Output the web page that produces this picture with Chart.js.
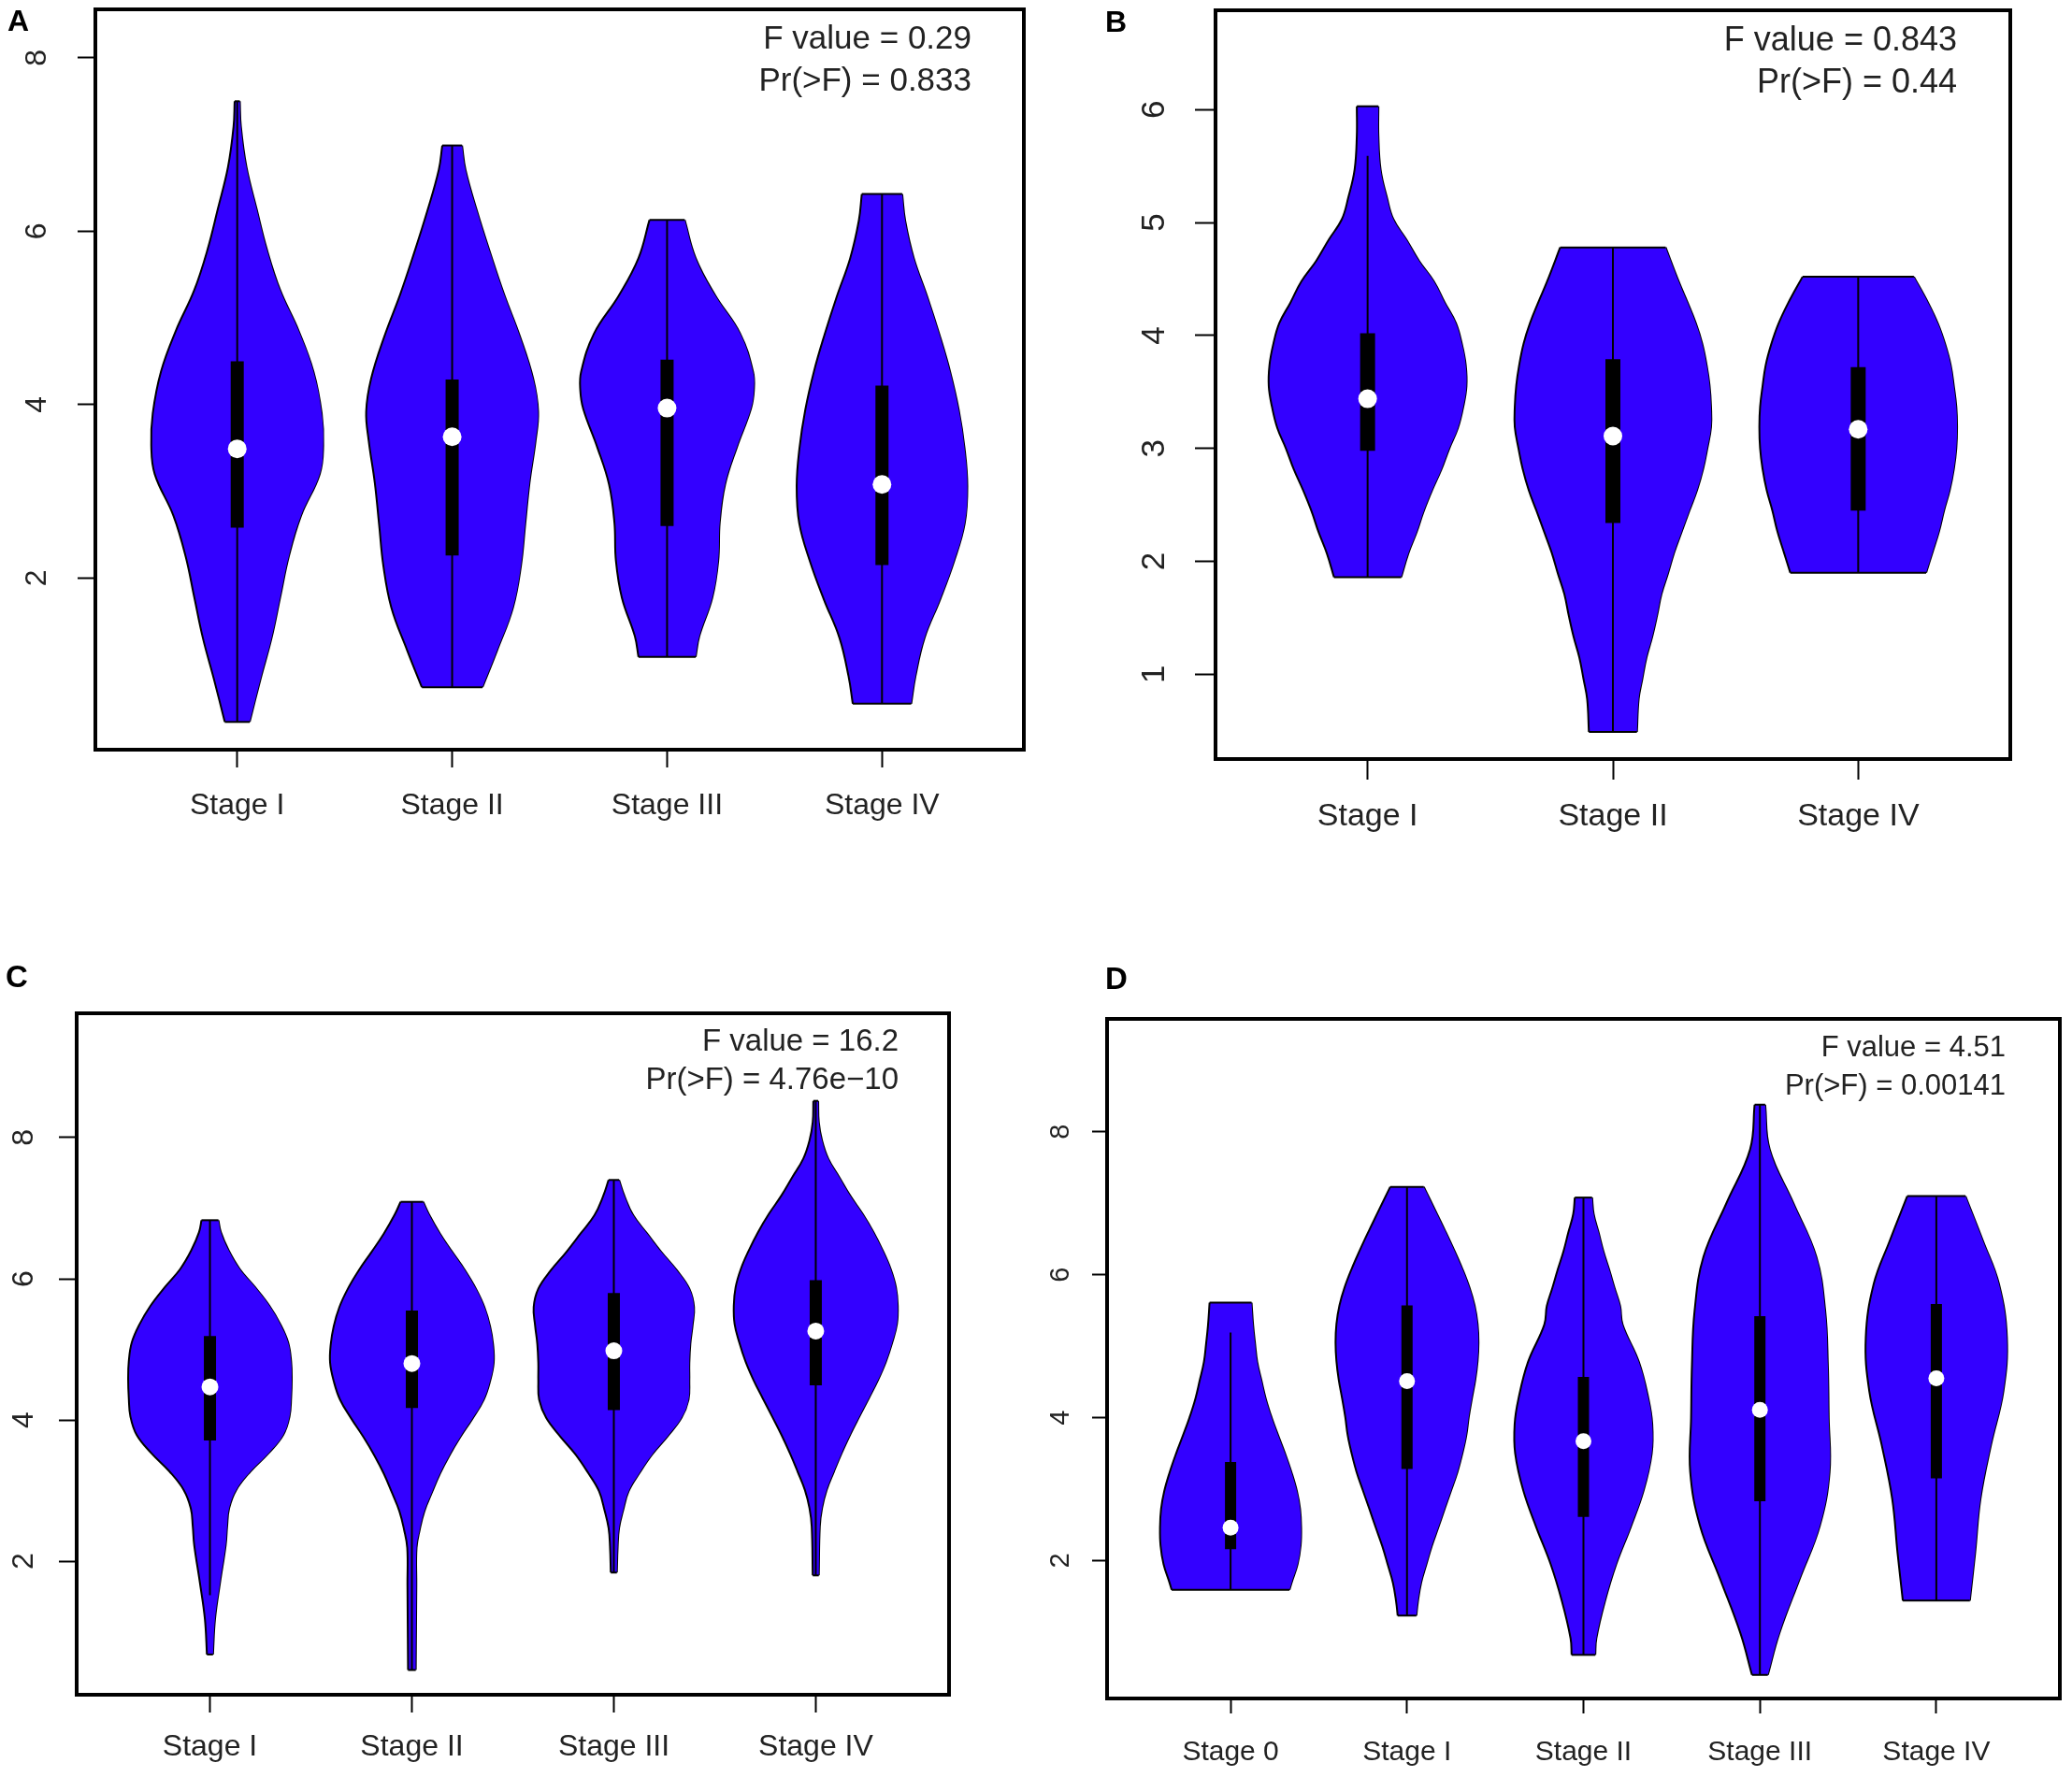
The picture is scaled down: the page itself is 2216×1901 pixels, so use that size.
<!DOCTYPE html>
<html><head><meta charset="utf-8">
<script src="https://cdn.jsdelivr.net/npm/chart.js@4.4.1/dist/chart.umd.min.js"></script>
<style>
html,body{margin:0;padding:0;background:#fff;}
#wrap{position:relative;width:2216px;height:1901px;overflow:hidden;background:#fff;}
canvas{position:absolute;}
.lab{position:absolute;font-family:"Liberation Sans",Arial,sans-serif;font-weight:bold;color:#000;line-height:1;}
</style></head><body>
<div id="wrap">
<canvas id="cA"></canvas><canvas id="cB"></canvas><canvas id="cC"></canvas><canvas id="cD"></canvas>
<div class="lab" style="left:8px;top:6px;font-size:32px">A</div>
<div class="lab" style="left:1182px;top:7px;font-size:32px">B</div>
<div class="lab" style="left:6px;top:1028px;font-size:33px">C</div>
<div class="lab" style="left:1182px;top:1030px;font-size:33px">D</div>
</div>
<script>
// ---------- DATA ----------
// Panel A
const A_categories = ['Stage I','Stage II','Stage III','Stage IV'];
const A_yTicks = [2,4,6,8];
const A_stats = ['F value = 0.29','Pr(>F) = 0.833'];
const A_shapes = [ // [value, half-width] from bottom to top
  [[0.34,0.058],[0.84,0.109],[1.31,0.16],[1.78,0.20],[2.25,0.24],[2.72,0.297],[3.20,0.384],[3.53,0.40],[3.90,0.393],[4.38,0.355],[4.85,0.286],[5.32,0.20],[5.79,0.138],[6.26,0.09],[6.74,0.043],[7.21,0.017],[7.50,0.012]],
  [[0.74,0.141],[1.17,0.21],[1.66,0.283],[2.14,0.32],[2.62,0.34],[3.10,0.36],[3.58,0.388],[3.92,0.40],[4.30,0.377],[4.79,0.315],[5.27,0.242],[5.75,0.177],[6.23,0.116],[6.71,0.062],[6.99,0.046]],
  [[1.09,0.133],[1.33,0.15],[1.77,0.21],[2.20,0.238],[2.64,0.245],[3.08,0.27],[3.51,0.325],[3.95,0.39],[4.17,0.404],[4.38,0.40],[4.82,0.34],[5.26,0.224],[5.69,0.133],[6.13,0.082]],
  [[0.55,0.136],[0.87,0.156],[1.31,0.198],[1.75,0.27],[2.19,0.335],[2.63,0.385],[3.06,0.397],[3.50,0.384],[3.94,0.357],[4.38,0.317],[4.81,0.267],[5.25,0.21],[5.69,0.148],[6.12,0.108],[6.43,0.094]]
];
const A_q1 = [2.58,2.26,2.60,2.15];
const A_q3 = [4.50,4.29,4.52,4.22];
const A_median = [3.49,3.63,3.96,3.08];
const A_whiskerLow = [0.34,0.74,1.09,0.55];
const A_whiskerHigh = [7.50,6.99,6.13,6.43];

// Panel B
const B_categories = ['Stage I','Stage II','Stage IV'];
const B_yTicks = [1,2,3,4,5,6];
const B_stats = ['F value = 0.843','Pr(>F) = 0.44'];
const B_shapes = [
  [[1.86,0.137],[2.07,0.166],[2.26,0.20],[2.44,0.228],[2.63,0.263],[2.81,0.30],[3.00,0.333],[3.18,0.368],[3.37,0.39],[3.55,0.403],[3.74,0.40],[3.92,0.385],[4.11,0.36],[4.29,0.315],[4.48,0.27],[4.66,0.21],[4.85,0.158],[5.03,0.105],[5.22,0.079],[5.47,0.053],[5.77,0.044],[6.03,0.044]],
  [[0.49,0.098],[0.78,0.105],[0.96,0.12],[1.15,0.137],[1.33,0.16],[1.52,0.18],[1.71,0.198],[1.89,0.224],[2.08,0.25],[2.26,0.28],[2.45,0.312],[2.63,0.343],[2.82,0.368],[3.00,0.385],[3.19,0.40],[3.37,0.40],[3.56,0.394],[3.74,0.382],[3.93,0.364],[4.11,0.338],[4.30,0.303],[4.48,0.268],[4.78,0.215]],
  [[1.90,0.277],[2.08,0.303],[2.27,0.33],[2.45,0.35],[2.63,0.373],[2.82,0.39],[3.00,0.40],[3.19,0.403],[3.37,0.40],[3.55,0.39],[3.74,0.377],[3.92,0.355],[4.10,0.326],[4.29,0.285],[4.52,0.227]]
];
const B_q1 = [2.98,2.34,2.45];
const B_q3 = [4.02,3.79,3.72];
const B_median = [3.44,3.11,3.17];
const B_whiskerLow = [1.86,0.49,1.90];
const B_whiskerHigh = [5.59,4.78,4.52];

// Panel C
const C_categories = ['Stage I','Stage II','Stage III','Stage IV'];
const C_yTicks = [2,4,6,8];
const C_stats = ['F value = 16.2','Pr(>F) = 4.76e\u221210'];
const C_shapes = [
  [[0.68,0.015],[1.18,0.025],[1.70,0.05],[2.23,0.078],[2.49,0.085],[2.75,0.095],[3.01,0.13],[3.27,0.20],[3.53,0.29],[3.79,0.363],[4.05,0.394],[4.31,0.402],[4.57,0.405],[4.83,0.402],[5.10,0.387],[5.36,0.348],[5.62,0.294],[5.88,0.224],[6.14,0.147],[6.40,0.093],[6.66,0.054],[6.83,0.042]],
  [[0.46,0.019],[1.67,0.022],[2.19,0.023],[2.45,0.039],[2.71,0.062],[2.98,0.10],[3.24,0.139],[3.50,0.186],[3.76,0.24],[4.02,0.30],[4.29,0.356],[4.55,0.387],[4.81,0.405],[5.07,0.402],[5.33,0.387],[5.60,0.359],[5.86,0.317],[6.12,0.263],[6.38,0.20],[6.64,0.139],[6.91,0.085],[7.09,0.056]],
  [[1.84,0.015],[2.21,0.019],[2.47,0.026],[2.72,0.046],[2.99,0.073],[3.25,0.127],[3.51,0.189],[3.77,0.266],[4.03,0.335],[4.29,0.37],[4.55,0.374],[4.81,0.374],[5.08,0.379],[5.34,0.39],[5.60,0.397],[5.86,0.374],[6.12,0.312],[6.38,0.235],[6.64,0.165],[6.90,0.096],[7.17,0.053],[7.40,0.026]],
  [[1.80,0.015],[2.49,0.02],[2.75,0.031],[3.01,0.054],[3.27,0.09],[3.53,0.128],[3.79,0.17],[4.05,0.216],[4.31,0.263],[4.57,0.309],[4.83,0.348],[5.10,0.379],[5.36,0.402],[5.62,0.406],[5.88,0.397],[6.14,0.371],[6.40,0.332],[6.66,0.286],[6.92,0.232],[7.18,0.17],[7.44,0.116],[7.70,0.062],[7.96,0.031],[8.22,0.015],[8.52,0.012]]
];
const C_q1 = [3.71,4.17,4.14,4.49];
const C_q3 = [5.19,5.55,5.80,5.98];
const C_median = [4.47,4.80,4.98,5.26];
const C_whiskerLow = [1.52,0.46,1.84,1.80];
const C_whiskerHigh = [6.83,7.09,7.40,8.52];

// Panel D
const D_categories = ['Stage 0','Stage I','Stage II','Stage III','Stage IV'];
const D_yTicks = [2,4,6,8];
const D_stats = ['F value = 4.51','Pr(>F) = 0.00141'];
const D_shapes = [
  [[1.59,0.334],[1.69,0.346],[1.95,0.38],[2.21,0.397],[2.46,0.40],[2.72,0.394],[2.97,0.376],[3.23,0.346],[3.49,0.31],[3.75,0.27],[4.00,0.233],[4.26,0.20],[4.52,0.175],[4.78,0.151],[5.03,0.139],[5.29,0.128],[5.61,0.119]],
  [[1.23,0.053],[1.43,0.062],[1.69,0.08],[1.94,0.109],[2.20,0.14],[2.46,0.177],[2.72,0.213],[2.98,0.25],[3.24,0.286],[3.50,0.314],[3.75,0.336],[4.01,0.35],[4.27,0.368],[4.53,0.387],[4.79,0.40],[5.05,0.405],[5.31,0.40],[5.57,0.383],[5.82,0.354],[6.08,0.314],[6.34,0.268],[6.60,0.219],[6.86,0.168],[7.23,0.095]],
  [[0.68,0.067],[0.91,0.073],[1.43,0.122],[1.95,0.186],[2.47,0.268],[2.98,0.341],[3.50,0.387],[3.91,0.39],[4.27,0.368],[4.78,0.314],[5.30,0.222],[5.56,0.208],[5.81,0.177],[6.07,0.146],[6.33,0.113],[6.59,0.086],[6.85,0.058],[7.08,0.049]],
  [[0.40,0.045],[0.98,0.11],[1.74,0.225],[2.49,0.34],[3.24,0.395],[4.00,0.39],[4.75,0.385],[5.50,0.37],[6.25,0.32],[7.00,0.19],[7.75,0.056],[8.38,0.03]],
  [[1.44,0.19],[2.11,0.22],[2.86,0.25],[3.62,0.31],[4.37,0.38],[5.12,0.40],[5.87,0.355],[6.47,0.265],[7.10,0.165]]
];
const D_q1 = [2.16,3.28,2.61,2.83,3.15];
const D_q3 = [3.38,5.57,4.57,5.42,5.59];
const D_median = [2.46,4.51,3.67,4.11,4.55];
const D_whiskerLow = [1.59,1.23,0.68,0.40,1.44];
const D_whiskerHigh = [5.19,7.23,7.08,8.38,7.10];

// ---------- LAYOUT / STYLE ----------
const FONT = '"Liberation Sans", Arial, Helvetica, sans-serif';
const VIOLIN = '#3300ff';
const TEXT = '#222';

const framePlugin = {
  id: 'frame',
  afterDatasetsDraw(chart, args, o) {
    const ca = chart.chartArea, ctx = chart.ctx;
    ctx.save();
    ctx.strokeStyle = '#000';
    ctx.lineWidth = o.lineWidth;
    ctx.strokeRect(ca.left, ca.top, ca.right - ca.left, ca.bottom - ca.top);
    ctx.fillStyle = TEXT;
    ctx.font = o.statSize + 'px ' + FONT;
    ctx.textAlign = 'right';
    ctx.textBaseline = 'middle';
    o.lines.forEach((t, k) => ctx.fillText(t, ca.right - o.statRight, ca.top + o.statY[k]));
    ctx.restore();
  }
};

function buildPanel(p) {
  const cv = document.getElementById(p.id);
  const [rx, ry, W, H] = p.rect;
  cv.width = W; cv.height = H;
  Object.assign(cv.style, {left: rx + 'px', top: ry + 'px', width: W + 'px', height: H + 'px'});
  const bl = p.box[0] - rx, bt = p.box[1] - ry, br = p.box[2] - rx, bb = p.box[3] - ry;
  const s = p.style;
  const datasets = [];
  const side = {showLine: true, borderColor: '#000', borderWidth: 2, pointRadius: 0,
    tension: 0.4, indexAxis: 'y'};
  p.shapes.forEach((sh, i) => {
    const c = i + 1;
    const lo = sh[0], hi = sh[sh.length - 1];
    // left outline, filled across to the right outline (next dataset)
    datasets.push(Object.assign({data: sh.map(([y, w]) => ({x: c - w, y})), fill: '+1',
      backgroundColor: VIOLIN, order: 10}, side));
    datasets.push(Object.assign({data: sh.map(([y, w]) => ({x: c + w, y})), fill: false, order: 10}, side));
    // flat ends of the violin
    datasets.push({data: [{x: c - lo[1], y: lo[0]}, {x: c + lo[1], y: lo[0]}], showLine: true, fill: false,
      borderColor: '#000', borderWidth: 2, pointRadius: 0, order: 9});
    datasets.push({data: [{x: c - hi[1], y: hi[0]}, {x: c + hi[1], y: hi[0]}], showLine: true, fill: false,
      borderColor: '#000', borderWidth: 2, pointRadius: 0, order: 9});
  });
  p.categories.forEach((cat, i) => {
    const c = i + 1;
    datasets.push({data: [{x: c, y: p.wLo[i]}, {x: c, y: p.wHi[i]}], showLine: true, fill: false,
      borderColor: '#000', borderWidth: 2, pointRadius: 0, order: 5});
    datasets.push({data: [{x: c, y: p.q1[i]}, {x: c, y: p.q3[i]}], showLine: true, fill: false,
      borderColor: '#000', borderWidth: s.boxW, borderCapStyle: 'butt', pointRadius: 0, order: 4});
  });
  datasets.push({data: p.median.map((m, i) => ({x: i + 1, y: m})), showLine: false,
    pointRadius: s.medR, pointBackgroundColor: '#fff', pointBorderColor: '#fff', pointBorderWidth: 0, order: 1});

  const grid = {drawOnChartArea: false, drawTicks: true, tickLength: s.tickLen, tickWidth: 2, tickColor: '#000', color: '#000'};
  new Chart(cv, {
    type: 'scatter',
    data: {datasets},
    options: {
      responsive: false, animation: false, devicePixelRatio: 1,
      layout: {padding: {left: 0, top: bt, right: W - br, bottom: 0}},
      plugins: {legend: {display: false}, tooltip: {enabled: false},
        frame: {lineWidth: s.frameW, lines: p.stats, statSize: s.statSize, statRight: s.statRight, statY: s.statY}},
      scales: {
        x: {type: 'linear', min: p.xRange[0], max: p.xRange[1],
          afterBuildTicks: sc => { sc.ticks = p.categories.map((_, i) => ({value: i + 1})); },
          afterFit: sc => { sc.height = H - bb; sc.paddingLeft = 0; sc.paddingRight = 0; },
          ticks: {autoSkip: false, minRotation: 0, maxRotation: 0, padding: s.xPad, color: TEXT,
            font: {family: FONT, size: s.xFont}, callback: v => p.categories[Math.round(v) - 1]},
          grid, border: {display: false}},
        y: {type: 'linear', min: p.yRange[0], max: p.yRange[1],
          afterBuildTicks: sc => { sc.ticks = p.yTicks.map(v => ({value: v})); },
          afterFit: sc => { sc.width = bl; sc.paddingTop = 0; sc.paddingBottom = 0; },
          ticks: {minRotation: 90, maxRotation: 90, crossAlign: 'center', padding: s.yPad, color: TEXT,
            font: {family: FONT, size: s.yFont}},
          grid, border: {display: false}}
      }
    },
    plugins: [framePlugin]
  });
}

buildPanel({id: 'cA', rect: [0, 0, 1108, 950], box: [102, 8, 1095, 802],
  categories: A_categories, shapes: A_shapes, q1: A_q1, q3: A_q3, median: A_median,
  wLo: A_whiskerLow, wHi: A_whiskerHigh, yTicks: A_yTicks, stats: A_stats,
  xRange: [0.34, 4.66], yRange: [0.02, 8.56],
  style: {tickLen: 19, yFont: 32, xFont: 32, statSize: 35, boxW: 14, medR: 10, yPad: 34, xPad: 22,
    frameW: 4, statRight: 56, statY: [32, 77]}});

buildPanel({id: 'cB', rect: [1108, 0, 1108, 950], box: [1300, 11, 2150, 812],
  categories: B_categories, shapes: B_shapes, q1: B_q1, q3: B_q3, median: B_median,
  wLo: B_whiskerLow, wHi: B_whiskerHigh, yTicks: B_yTicks, stats: B_stats,
  xRange: [0.38, 3.62], yRange: [0.25, 6.88],
  style: {tickLen: 22, yFont: 35, xFont: 34, statSize: 36, boxW: 16, medR: 10, yPad: 33, xPad: 19,
    frameW: 4, statRight: 57, statY: [33, 78]}});

buildPanel({id: 'cC', rect: [0, 950, 1108, 951], box: [82, 1084, 1015, 1813],
  categories: C_categories, shapes: C_shapes, q1: C_q1, q3: C_q3, median: C_median,
  wLo: C_whiskerLow, wHi: C_whiskerHigh, yTicks: C_yTicks, stats: C_stats,
  xRange: [0.34, 4.66], yRange: [0.11, 9.76],
  style: {tickLen: 19, yFont: 32, xFont: 32, statSize: 33, boxW: 13, medR: 9, yPad: 28, xPad: 18,
    frameW: 4, statRight: 54, statY: [31, 72]}});

buildPanel({id: 'cD', rect: [1108, 950, 1108, 951], box: [1184, 1090, 2203, 1817],
  categories: D_categories, shapes: D_shapes, q1: D_q1, q3: D_q3, median: D_median,
  wLo: D_whiskerLow, wHi: D_whiskerHigh, yTicks: D_yTicks, stats: D_stats,
  xRange: [0.30, 5.70], yRange: [0.07, 9.58],
  style: {tickLen: 16, yFont: 29, xFont: 30, statSize: 31, boxW: 12, medR: 8.5, yPad: 25, xPad: 24,
    frameW: 4, statRight: 58, statY: [31, 72]}});
</script>
</body></html>
